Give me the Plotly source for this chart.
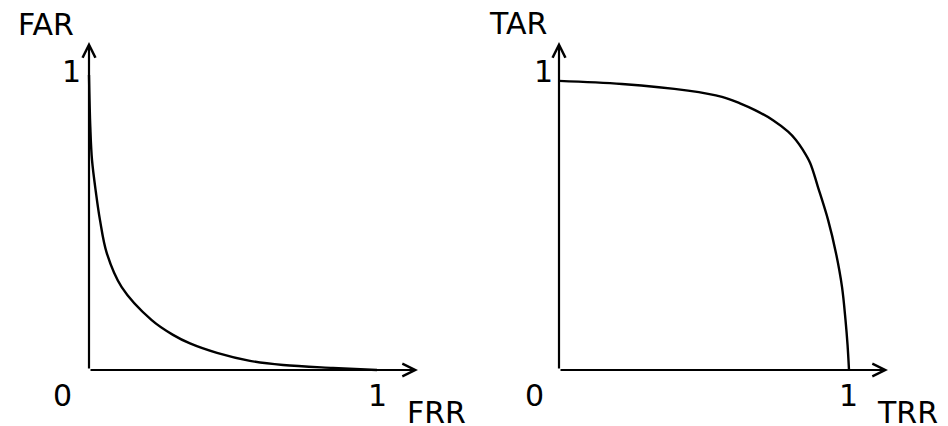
import plotly.graph_objects as go

# Left panel: FAR vs FRR
frr = [0, 0.0045, 0.0104, 0.0243, 0.0382, 0.0615, 0.1135, 0.2177, 0.2917, 0.3507, 0.4444, 0.559, 0.674, 0.847, 1.0]
far = [1, 0.824, 0.712, 0.600, 0.508, 0.397, 0.281, 0.169, 0.119, 0.090, 0.058, 0.031, 0.017, 0.007, 0]

# Right panel: TAR vs TRR
trr = [0, 0.217, 0.445, 0.562, 0.624, 0.676, 0.738, 0.790, 0.817, 0.841, 0.866, 0.893, 0.928, 0.955, 0.976, 0.988, 0.995, 1.0]
tar = [0.980, 0.9695, 0.947, 0.926, 0.904, 0.881, 0.847, 0.808, 0.780, 0.746, 0.702, 0.620, 0.508, 0.397, 0.281, 0.169, 0.085, 0]

left_labels = {"y": "FAR", "x": "FRR"}
right_labels = {"y": "TAR", "x": "TRR"}
tick_labels = ["0", "1"]

W, H = 940, 418   # page has 8px body margin
FONT = "DejaVu Sans"
FS = 30

fig = go.Figure()
fig.add_trace(go.Scatter(x=frr, y=far, mode="lines", xaxis="x", yaxis="y",
                         line=dict(color="black", width=2.4, shape="spline", smoothing=1.0),
                         showlegend=False, hoverinfo="skip"))
fig.add_trace(go.Scatter(x=trr, y=tar, mode="lines", xaxis="x2", yaxis="y",
                         line=dict(color="black", width=2.4, shape="spline", smoothing=1.0),
                         showlegend=False, hoverinfo="skip"))

# axis ranges (pixel mapping, figure-local coordinates)
lx0 = -81 / 288
lx1 = lx0 + 470 / 288
rx0 = -81 / 290
rx1 = rx0 + 470 / 290
y0 = -56 / 295
y1 = (H - 56) / 295

fig.update_layout(
    width=W, height=H,
    margin=dict(l=0, r=0, t=0, b=0),
    paper_bgcolor="white", plot_bgcolor="white",
    xaxis=dict(domain=[0, 0.5], range=[lx0, lx1], visible=False),
    xaxis2=dict(domain=[0.5, 1], range=[rx0, rx1], visible=False),
    yaxis=dict(domain=[0, 1], range=[y0, y1], visible=False),
    showlegend=False,
)

annotations = []
def arrow(xref, x_tip, y_tip):
    annotations.append(dict(
        xref=xref, yref="y", axref=xref, ayref="y",
        x=x_tip, y=y_tip, ax=0, ay=0, text="", showarrow=True,
        arrowhead=5, arrowsize=1.15, arrowwidth=2.2, arrowcolor="black", standoff=0))

arrow("x", (418 - 89) / 288, 0)
arrow("x", 0, (370 - 42) / 295)
arrow("x2", (888 - 559) / 290, 0)
arrow("x2", 0, (370 - 42) / 295)

def label(xref, x, y, text):
    annotations.append(dict(xref=xref, yref="y", x=x, y=y, text=text, showarrow=False,
                            xanchor="center", yanchor="middle",
                            font=dict(family=FONT, size=FS, color="black")))

# left labels
label("x", -0.1476, 1.171, left_labels["y"])
label("x", -0.0608, 1.012, tick_labels[1])
label("x", -0.0903, -0.0864, tick_labels[0])
label("x", 1.0, -0.0864, tick_labels[1])
label("x", 1.208, -0.144, left_labels["x"])
# right labels
label("x2", -0.143, 1.173, right_labels["y"])
label("x2", -0.055, 1.012, tick_labels[1])
label("x2", -0.0845, -0.0864, tick_labels[0])
label("x2", 0.9966, -0.0864, tick_labels[1])
label("x2", 1.2, -0.144, right_labels["x"])

fig.update_layout(annotations=annotations)
fig.write_html("out.html")
